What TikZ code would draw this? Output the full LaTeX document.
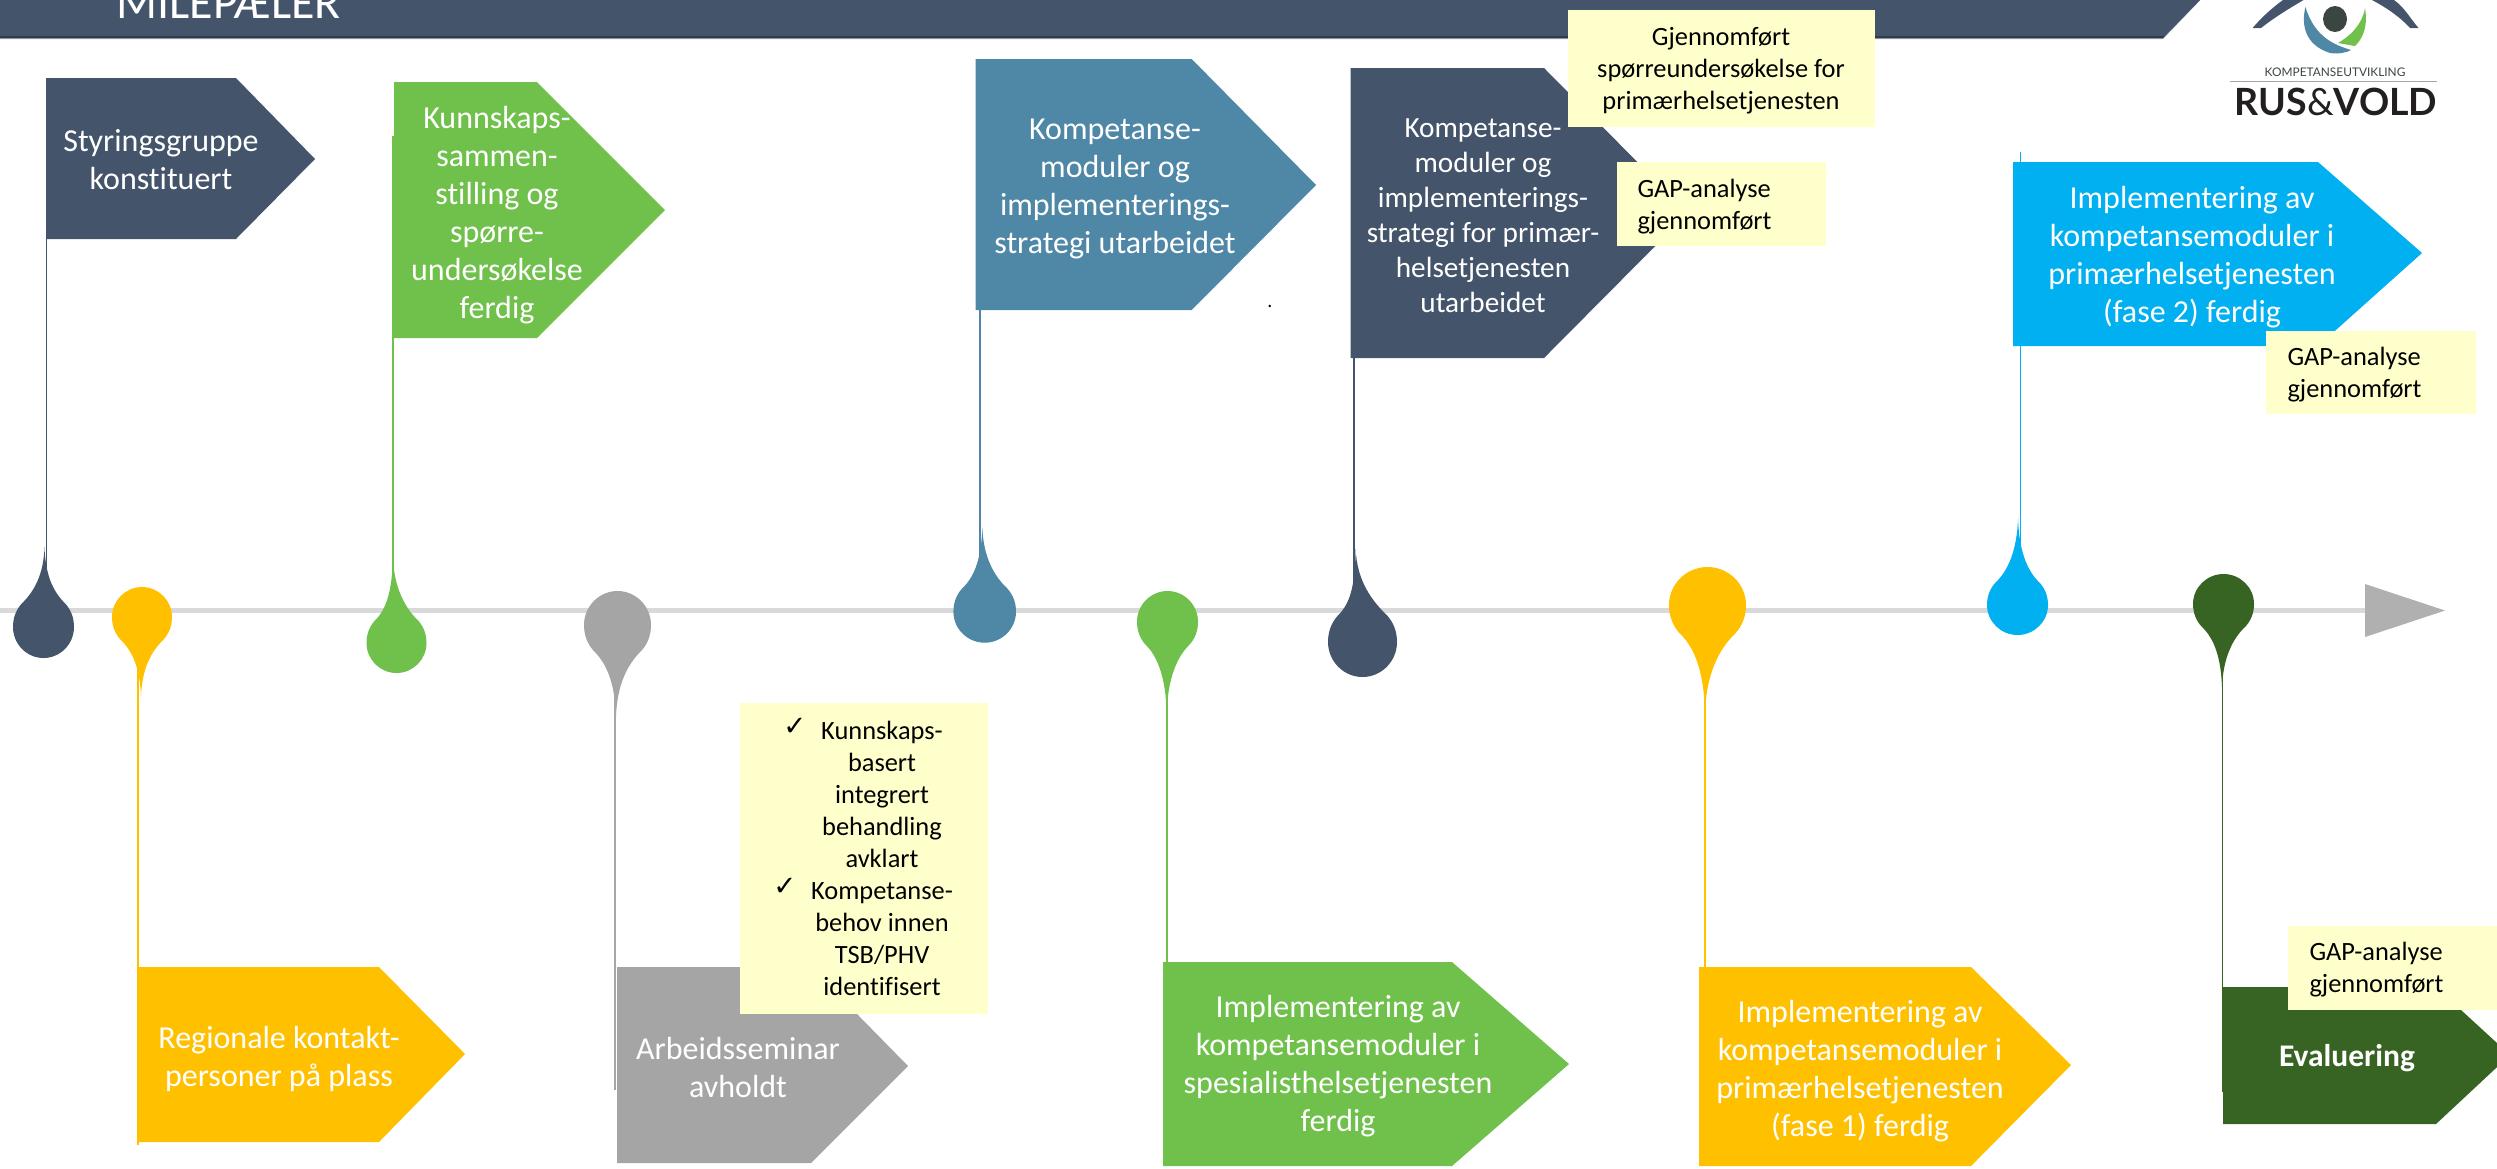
\documentclass[tikz,border=0pt]{standalone}
\usepackage{fontspec}
\setmainfont{Carlito}[Ligatures=NoCommon]
\newfontfamily\logofont{Lato}
\newfontfamily\symfont{DejaVu Sans}
\definecolor{cdark}{HTML}{44546A}
\definecolor{cdarker}{HTML}{2F3B4B}
\definecolor{cedge}{HTML}{9AA3AE}
\definecolor{cgreen}{HTML}{70C04C}
\definecolor{cteal}{HTML}{4F87A6}
\definecolor{cblue}{HTML}{00B0F0}
\definecolor{cyell}{HTML}{FFC000}
\definecolor{cgray}{HTML}{A5A5A5}
\definecolor{cdgreen}{HTML}{376323}
\definecolor{cnote}{HTML}{FFFFCC}
\definecolor{cline}{HTML}{D9D9D9}
\definecolor{carrow}{HTML}{B0B0B0}
\definecolor{clogo}{HTML}{231F20}
\definecolor{cpupil}{HTML}{3C4641}
\newcommand{\teardrop}[8]{%
  \pgfmathsetmacro{\dsgn}{(#8>#4)?1:-1}
  \pgfmathsetmacro{\dT}{abs(#8-#4)/#6}
  \pgfmathsetmacro{\dtx}{(#7-#3)/#5}
  \pgfmathsetmacro{\dcy}{0.8+0.5*(\dT-0.8)}
  \pgfmathsetmacro{\dys}{\dsgn*#6}
  \begin{scope}[shift={(#3,#4)},xscale=#5,yscale=\dys]
    \coordinate (#1) at (\dtx,\dT);
    \fill[#2] (#1) .. controls (\dtx+0.03,\dcy) and (0.3,1.15) .. (0.72,0.75)
      .. controls (0.9,0.55) and (1,0.3) .. (1,0)
      .. controls (1,-0.55) and (0.55,-1) .. (0,-1)
      .. controls (-0.55,-1) and (-1,-0.55) .. (-1,0)
      .. controls (-1,0.3) and (-0.9,0.55) .. (-0.72,0.75)
      .. controls (-0.3,1.15) and (\dtx-0.03,\dcy) .. (#1) -- cycle;
  \end{scope}}
\newcommand{\flagshape}[7]{% colour x top shoulder tip mid bottom
  \fill[#1] (#2,#3) -- (#4,#3) -- (#5,#6) -- (#4,#7) -- (#2,#7) -- cycle;}
\tikzset{
  flagtext/.style={text=white,align=center,inner sep=0pt,font=\fontsize{12.8}{15.2}\selectfont},
  midtext/.style={flagtext,font=\fontsize{11.7}{14}\selectfont},
  notetext/.style={text=black,align=center,inner sep=0pt,font=\fontsize{10.56}{12.8}\selectfont},
  noteleft/.style={notetext,align=left,anchor=west},
  tick/.style={text=black,inner sep=0pt,font=\symfont\fontsize{11}{12}\selectfont},
  pole/.style={line width=0.6pt},
}
\begin{document}
\begin{tikzpicture}[x=0.4pt,y=-0.4pt]
\useasboundingbox (0,0) rectangle (2497,1168);
\clip (0,0) rectangle (2497,1168);
% header
\fill[cedge] (0,-5) -- (2205,-5) -- (2163,39) -- (0,39) -- cycle;
\fill[cdark] (0,-5) -- (2205,-5) -- (2165,36) -- (0,36) -- cycle;
\fill[cdarker] (0,36) -- (2165,36) -- (2163,38) -- (0,38) -- cycle;
\node[anchor=base west,inner sep=0pt,text=white,font=\fontsize{19.2}{21}\selectfont] (title) at (116,18) {MILEPÆLER};
% logo
\fill[cdark] (2252.5,28) .. controls (2262,17) and (2272,8) .. (2283,0) -- (2303,-2) -- (2303.5,0) .. controls (2290,8) and (2275,17) .. (2261,28) -- cycle;
\fill[cdark] (2418.5,28) .. controls (2409,17) and (2405,8) .. (2394,0) -- (2372,-2) -- (2372,0) .. controls (2387,8) and (2400,17) .. (2410,28) -- cycle;
\fill[cpupil] (2335,19) ellipse [x radius=12,y radius=13];
\fill[cteal] (2305.4,7) .. controls (2301,25) and (2305,45) .. (2330,53) .. controls (2338,54) and (2346,53) .. (2351,50) .. controls (2335,45) and (2315,38) .. (2305.4,7) -- cycle;
\fill[cgreen] (2365,8) .. controls (2368,27) and (2363,38) .. (2355,46) -- (2338,43) .. controls (2350,36) and (2362,25) .. (2365,8) -- cycle;
\node[inner sep=0pt,text=cpupil,font=\logofont\fontsize{4.75}{5}\selectfont] (logosub) at (2335,72) {KOMPETANSEUTVIKLING};
\coordinate (rulea) at (2230.4,81);
\coordinate (ruleb) at (2437,81);
\draw[cgray,line width=0.4pt] (rulea) -- (ruleb);
\node[inner sep=0pt,text=clogo,font=\logofont\bfseries\fontsize{15}{16}\selectfont] (logomain) at (2336,102) {RUS{\fontseries{m}\selectfont\&}VOLD};
% timeline
\coordinate (linestart) at (0,610.5);
\coordinate (lineend) at (2370,610.5);
\draw[cline,line width=2pt] (linestart) -- (lineend);
\fill[carrow] (2365,584) -- (2445,610.5) -- (2365,637) -- cycle;
% poles
\coordinate (p1a) at (46.5,230); \coordinate (p1b) at (46.5,590);
\coordinate (p2a) at (393,136);  \coordinate (p2b) at (393,610);
\coordinate (p3a) at (980,300);  \coordinate (p3b) at (980,570);
\coordinate (p4a) at (1354,350); \coordinate (p4b) at (1354,600);
\coordinate (p5a) at (2020.7,152); \coordinate (p5b) at (2020.7,570);
\coordinate (p6a) at (138,660);  \coordinate (p6b) at (138,1145);
\coordinate (p7a) at (615,680);  \coordinate (p7b) at (615,1090);
\coordinate (p8a) at (1167,680); \coordinate (p8b) at (1167,970);
\coordinate (p9a) at (1705,680); \coordinate (p9b) at (1705,970);
\coordinate (p10a) at (2222.5,660); \coordinate (p10b) at (2222.5,1092);
\draw[pole,cdark] (p1a) -- (p1b);
\draw[pole,cgreen] (p2a) -- (p2b);
\draw[pole,cteal] (p3a) -- (p3b);
\draw[pole,cdark] (p4a) -- (p4b);
\draw[pole,cblue] (p5a) -- (p5b);
\draw[pole,cyell] (p6a) -- (p6b);
\draw[pole,cgray] (p7a) -- (p7b);
\draw[pole,cgreen] (p8a) -- (p8b);
\draw[pole,cyell] (p9a) -- (p9b);
\draw[pole,cdgreen] (p10a) -- (p10b);
% drops
\teardrop{d1}{cdark}{43.5}{627}{30.5}{31}{44.5}{547}
\teardrop{d2}{cyell}{142}{617}{30}{30}{141}{697}
\teardrop{d3}{cgreen}{396.5}{643}{30}{30}{393}{557}
\teardrop{d4}{cgray}{617.5}{625}{33.5}{34}{616}{717}
\teardrop{d5}{cteal}{984.7}{611.7}{31.3}{31}{982.3}{527}
\teardrop{d6}{cgreen}{1167.5}{621.7}{30.5}{30.7}{1166.7}{713}
\teardrop{d7}{cdark}{1362.5}{642}{34.5}{35}{1355.7}{549}
\teardrop{d8}{cyell}{1707.5}{605}{38.5}{38}{1705}{713}
\teardrop{d9}{cblue}{2017.5}{605}{30.5}{30}{2018}{518}
\teardrop{d10}{cdgreen}{2223.5}{604}{30.5}{30}{2222}{688}
% flags
\flagshape{cdark}{46}{78}{236}{315}{159}{239}
\flagshape{cgreen}{394}{82}{537}{665}{210}{338}
\flagshape{cteal}{975.7}{59}{1191.7}{1316}{185}{310}
\flagshape{cdark}{1350.5}{68}{1544}{1688}{213}{358}
\flagshape{cblue}{2013}{162}{2318}{2422}{253}{346}
\flagshape{cyell}{138.5}{967}{379}{465}{1054}{1142}
\flagshape{cgray}{617}{967}{811}{908}{1066}{1163}
\flagshape{cgreen}{1163}{962}{1452}{1569}{1064}{1166}
\flagshape{cyell}{1699}{967}{1971}{2071}{1065}{1166}
\flagshape{cdgreen}{2223}{987}{2436}{2510}{1055}{1124}
% flag texts
\node[flagtext] (t1) at (161,160) {Styringsgruppe\\konstituert};
\node[flagtext] (t2) at (497,215) {Kunnskaps-\\sammen-\\stilling og\\spørre-\\undersøkelse\\ferdig};
\node[flagtext] (t3) at (1115,189) {Kompetanse-\\moduler og\\implementerings-\\strategi utarbeidet};
\node[midtext] (t4) at (1483,216) {Kompetanse-\\moduler og\\implementerings-\\strategi for primær-\\helsetjenesten\\utarbeidet};
\node[flagtext] (t5) at (2192,257) {Implementering av\\kompetansemoduler i\\primærhelsetjenesten\\(fase 2) ferdig};
\node[flagtext] (t6) at (279,1059) {Regionale kontakt-\\personer på plass};
\node[flagtext] (t7) at (738,1067) {Arbeidsseminar\\avholdt};
\node[flagtext] (t8) at (1338,1066) {Implementering av\\kompetansemoduler i\\spesialisthelsetjenesten\\ferdig};
\node[flagtext] (t9) at (1860,1071) {Implementering av\\kompetansemoduler i\\primærhelsetjenesten\\(fase 1) ferdig};
\node[flagtext,font=\bfseries\fontsize{12.6}{15}\selectfont] (t10) at (2347,1058) {Evaluering};
\node[inner sep=0pt,text=black,font=\fontsize{8}{9}\selectfont] (dot) at (1270,306) {.};
% note boxes
\fill[cnote] (1567.5,10) rectangle (1875,127);
\node[notetext] (n1) at (1721,71) {Gjennomført\\spørreundersøkelse for\\primærhelsetjenesten};
\fill[cnote] (1617,162) rectangle (1826,246);
\node[noteleft] (n2) at (1637,207) {GAP-analyse\\gjennomført};
\fill[cnote] (2266,331) rectangle (2476,414);
\node[noteleft] (n3) at (2287,375) {GAP-analyse\\gjennomført};
\fill[cnote] (2288,926) rectangle (2497,1010);
\node[noteleft] (n4) at (2309,970) {GAP-analyse\\gjennomført};
\fill[cnote] (740,703) rectangle (988,1014);
\node[notetext] (n5) at (882,858) {Kunnskaps-\\basert\\integrert\\behandling\\avklart\\Kompetanse-\\behov innen\\TSB/PHV\\identifisert};
\node[tick] (c1) at (795,727) {✓};
\node[tick] (c2) at (785,887) {✓};
\end{tikzpicture}
\end{document}
